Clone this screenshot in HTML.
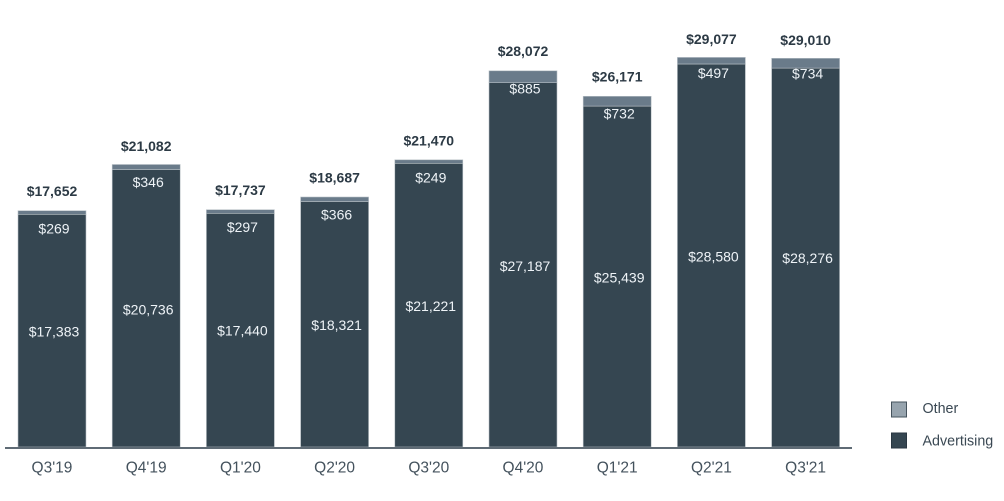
<!DOCTYPE html>
<html><head><meta charset="utf-8"><style>
html,body{margin:0;padding:0;background:#fff;}
svg{display:block;}
text{font-family:"Liberation Sans",sans-serif;}
.t{font-weight:bold;font-size:14px;fill:#2c3a45;text-anchor:middle;dominant-baseline:central;}
.i{font-size:14px;fill:#eef3f7;text-anchor:middle;dominant-baseline:central;}
.x{font-size:15.5px;fill:#44525d;text-anchor:middle;dominant-baseline:central;}
.l{font-size:14.3px;fill:#3a4853;dominant-baseline:central;}
</style></head><body>
<svg width="1004" height="501" viewBox="0 0 1004 501" xmlns="http://www.w3.org/2000/svg">
<g stroke="#b8c0c6" stroke-width="0.6">
<!-- bar1 -->
<rect x="18" y="214.3" width="68" height="232.7" fill="#354651"/>
<rect x="18" y="210.7" width="68" height="3.6" fill="#6a7b8a"/>
<!-- bar2 -->
<rect x="112.2" y="169.5" width="68" height="277.5" fill="#354651"/>
<rect x="112.2" y="164.5" width="68" height="5" fill="#6a7b8a"/>
<!-- bar3 -->
<rect x="206.4" y="213.3" width="68" height="233.7" fill="#354651"/>
<rect x="206.4" y="209.7" width="68" height="3.6" fill="#6a7b8a"/>
<!-- bar4 -->
<rect x="300.6" y="201.5" width="68" height="245.5" fill="#354651"/>
<rect x="300.6" y="197" width="68" height="4.5" fill="#6a7b8a"/>
<!-- bar5 -->
<rect x="394.8" y="163.3" width="68" height="283.7" fill="#354651"/>
<rect x="394.8" y="159.8" width="68" height="3.5" fill="#6a7b8a"/>
<!-- bar6 -->
<rect x="489" y="82.7" width="68" height="364.3" fill="#354651"/>
<rect x="489" y="70.8" width="68" height="11.9" fill="#6a7b8a"/>
<!-- bar7 -->
<rect x="583.2" y="106.1" width="68" height="340.9" fill="#354651"/>
<rect x="583.2" y="96.3" width="68" height="9.8" fill="#6a7b8a"/>
<!-- bar8 -->
<rect x="677.4" y="64" width="68" height="383" fill="#354651"/>
<rect x="677.4" y="57.4" width="68" height="6.6" fill="#6a7b8a"/>
<!-- bar9 -->
<rect x="771.6" y="68.1" width="68" height="378.9" fill="#354651"/>
<rect x="771.6" y="58.3" width="68" height="9.8" fill="#6a7b8a"/>
</g>
<line x1="5" y1="448" x2="852" y2="448" stroke="#5f6b75" stroke-width="2"/>

<!-- totals -->
<text class="t" x="52" y="191">$17,652</text>
<text class="t" x="146.2" y="146">$21,082</text>
<text class="t" x="240.4" y="190">$17,737</text>
<text class="t" x="334.6" y="177.5">$18,687</text>
<text class="t" x="428.8" y="140.5">$21,470</text>
<text class="t" x="523" y="51">$28,072</text>
<text class="t" x="617.2" y="76.5">$26,171</text>
<text class="t" x="711.4" y="39">$29,077</text>
<text class="t" x="805.6" y="40">$29,010</text>

<!-- other labels -->
<text class="i" x="54" y="228.5">$269</text>
<text class="i" x="148.2" y="182">$346</text>
<text class="i" x="242.4" y="227">$297</text>
<text class="i" x="336.6" y="214.5">$366</text>
<text class="i" x="430.8" y="177.5">$249</text>
<text class="i" x="525" y="88.5">$885</text>
<text class="i" x="619.2" y="113.5">$732</text>
<text class="i" x="713.4" y="73">$497</text>
<text class="i" x="807.6" y="73.5">$734</text>

<!-- advertising labels -->
<text class="i" x="54" y="331.5">$17,383</text>
<text class="i" x="148.2" y="309.5">$20,736</text>
<text class="i" x="242.4" y="330.5">$17,440</text>
<text class="i" x="336.6" y="325">$18,321</text>
<text class="i" x="430.8" y="306">$21,221</text>
<text class="i" x="525" y="266">$27,187</text>
<text class="i" x="619.2" y="277.5">$25,439</text>
<text class="i" x="713.4" y="256.5">$28,580</text>
<text class="i" x="807.6" y="258">$28,276</text>

<!-- x labels -->
<text class="x" x="52" y="468">Q3'19</text>
<text class="x" x="146.2" y="468">Q4'19</text>
<text class="x" x="240.4" y="468">Q1'20</text>
<text class="x" x="334.6" y="468">Q2'20</text>
<text class="x" x="428.8" y="468">Q3'20</text>
<text class="x" x="523" y="468">Q4'20</text>
<text class="x" x="617.2" y="468">Q1'21</text>
<text class="x" x="711.4" y="468">Q2'21</text>
<text class="x" x="805.6" y="468">Q3'21</text>

<!-- legend -->
<rect x="891.5" y="402" width="15" height="15" fill="#97a4ae" stroke="#46535d" stroke-width="1"/>
<text class="l" x="922.5" y="409">Other</text>
<rect x="891.5" y="433" width="15" height="15" fill="#354651" stroke="#2a3742" stroke-width="1"/>
<text class="l" x="922.5" y="441.5">Advertising</text>
</svg>
</body></html>
